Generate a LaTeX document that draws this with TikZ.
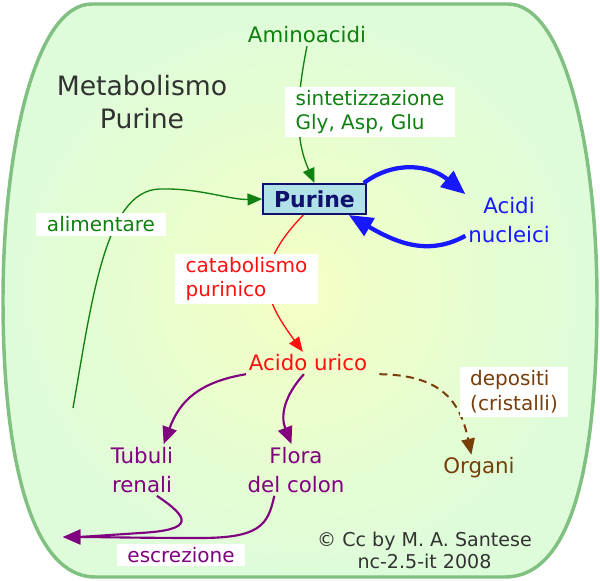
\documentclass[tikz,border=0pt]{standalone}
\usepackage{fontspec}
\setmainfont{DejaVu Sans}
\usetikzlibrary{arrows.meta}
\definecolor{leafgreen}{RGB}{16,128,16}
\definecolor{framegreen}{RGB}{128,192,128}
\definecolor{innerglow}{RGB}{244,255,196}
\definecolor{outerglow}{RGB}{222,252,218}
\definecolor{acidblue}{RGB}{24,24,255}
\definecolor{uricred}{RGB}{255,16,16}
\definecolor{excrplum}{RGB}{128,0,128}
\definecolor{depoclay}{RGB}{120,62,10}
\definecolor{boxcyan}{RGB}{176,226,232}
\definecolor{boxnavy}{RGB}{16,16,110}
\definecolor{inkgray}{RGB}{50,50,50}
\newcommand\cptfont{\fontsize{16}{22}\selectfont}
\newcommand\lblfont{\fontsize{15}{18.5}\selectfont}
\newcommand\framepath{(92,4) -- (508,4)
    .. controls (565,4) and (597,150) .. (597,300)
    .. controls (597,470) and (570,577) .. (505,577)
    -- (95,577)
    .. controls (35,577) and (3,470) .. (3,300)
    .. controls (3,150) and (35,4) .. (92,4) -- cycle}

\begin{document}
\begin{tikzpicture}[x=0.75pt,y=-0.75pt,
    concept/.style={font=\cptfont,align=center,inner sep=2pt},
    lbl/.style={font=\lblfont,align=left,fill=white,inner xsep=8pt,inner ysep=2.5pt},
    garr/.style={leafgreen,line width=1pt,-{Triangle[length=11pt,width=9pt]}},
    barr/.style={acidblue,line width=3.2pt,-{Triangle[length=18pt,width=15pt]}},
    rarr/.style={uricred,line width=1pt,-{Triangle[length=11pt,width=9pt]}},
    parr/.style={excrplum,line width=1.6pt,-{Triangle[length=13pt,width=11pt]}},
    darr/.style={depoclay,line width=1.5pt,dash pattern=on 6pt off 4pt,
      -{Triangle[length=12pt,width=10pt]}}
  ]
    \useasboundingbox (0,0) rectangle (600,581);
    \shadedraw[draw=framegreen,line width=2.6pt,inner color=innerglow,outer color=outerglow]
      \framepath;

    % concetti
    \node[font=\fontsize{20}{25}\selectfont,text=inkgray,align=center] (title) at (142,102) {Metabolismo\\Purine};
    \node[concept,text=leafgreen] (amino) at (307,35) {Aminoacidi};
    \node[concept,font=\bfseries\fontsize{16.5}{20}\selectfont,fill=boxcyan,draw=boxnavy,
      line width=1.5pt,text=boxnavy,minimum width=77pt,minimum height=22.5pt] (purine) at (314.5,199) {Purine};
    \node[concept,text=acidblue] (acidi) at (509,220) {Acidi\\nucleici};
    \node[concept,text=uricred] (urico) at (308,363) {Acido urico};
    \node[concept,text=excrplum] (tubuli) at (142,470) {Tubuli\\renali};
    \node[concept,text=excrplum] (flora) at (296,470) {Flora\\del colon};
    \node[concept,text=depoclay] (organi) at (479,468) {Organi};
    \node[font=\fontsize{14.3}{16.5}\selectfont,text=inkgray,align=center] (credit) at (424.5,550)
      {© Cc by M. A. Santese\\nc-2.5-it 2008};

    \coordinate (food) at (73,408);
    \coordinate (out) at (63,537);

    % frecce
    \draw[garr] (amino.south) .. controls (292,120) and (300,150) .. (purine.north);
    \draw[garr] (food) .. controls (92,300) and (105,190) .. (160,189)
      .. controls (200,188) and (230,200) .. (purine.west);
    \draw[barr] (purine.18) .. controls (395,160) and (430,165) .. (acidi.north west);
    \draw[barr] (acidi.200) .. controls (430,255) and (400,245) .. (purine.335);
    \draw[rarr] (purine.235) .. controls (250,270) and (265,300) .. (urico.115);
    \draw[parr] (urico.south west) .. controls (200,382) and (180,400) .. (tubuli.50);
    \draw[parr] (urico.250) .. controls (285,395) and (280,415) .. (flora.100);
    \draw[parr] (tubuli.300) .. controls (190,518) and (195,530) .. (140,533)
      .. controls (110,535) and (80,537) .. (out);
    \draw[parr] (flora.230) .. controls (268,525) and (260,538) .. (200,538)
      .. controls (140,538) and (100,537) .. (out);
    \draw[darr] ([xshift=7pt]urico.south east) .. controls (440,375) and (460,400) .. (organi.120);

    % etichette
    \node[lbl,text=leafgreen] (synth) at (370,112) {sintetizzazione\\Gly, Asp, Glu};
    \node[lbl,text=leafgreen] (diet) at (101,224.5) {alimentare};
    \node[lbl,text=uricred] (catab) at (246.5,279) {catabolismo\\purinico};
    \node[lbl,text=depoclay] (depo) at (514,392) {depositi\\(cristalli)};
    \node[lbl,text=excrplum] (excr) at (181,555) {escrezione};
  \end{tikzpicture}
\end{document}
